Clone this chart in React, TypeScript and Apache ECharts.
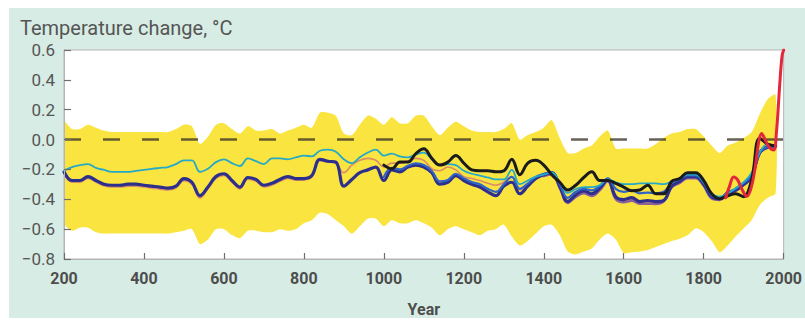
import React, { useEffect, useRef } from "react";
import * as echarts from "echarts";

// Year grid (20-year steps) shared by the band and the reconstructions
const gridYears = [
  200, 220, 240, 260, 280, 300, 320, 340, 360, 380,
  400, 420, 440, 460, 480, 500, 520, 540, 560, 580,
  600, 620, 640, 660, 680, 700, 720, 740, 760, 780,
  800, 820, 840, 860, 880, 900, 920, 940, 960, 980,
  1000, 1020, 1040, 1060, 1080, 1100, 1120, 1140, 1160, 1180,
  1200, 1220, 1240, 1260, 1280, 1300, 1320, 1340, 1360, 1380,
  1400, 1420, 1440, 1460, 1480, 1500, 1520, 1540, 1560, 1580,
  1600, 1620, 1640, 1660, 1680, 1700, 1720, 1740, 1760, 1780,
  1800, 1820, 1840, 1860, 1880, 1900, 1920, 1940, 1960, 1980,
];

const bandUpper = [
  0.12, 0.07, 0.07, 0.10, 0.08, 0.06, 0.05, 0.05, 0.05, 0.05,
  0.05, 0.05, 0.05, 0.05, 0.07, 0.10, 0.09, -0.03, 0.02, 0.10,
  0.11, 0.07, 0.04, 0.09, 0.06, 0.06, 0.07, 0.04, 0.06, 0.08,
  0.10, 0.08, 0.18, 0.18, 0.16, 0.04, 0.03, 0.10, 0.16, 0.14,
  0.10, 0.15, 0.11, 0.11, 0.16, 0.16, 0.09, 0.03, 0.08, 0.12,
  0.09, 0.06, 0.05, 0.05, 0.05, 0.07, 0.11, 0.00, 0.03, 0.05,
  0.08, 0.13, 0.01, -0.09, -0.09, -0.06, -0.04, 0.02, 0.06, -0.06,
  -0.06, -0.06, -0.06, -0.06, -0.03, 0.01, 0.04, 0.05, 0.07, 0.07,
  0.02, -0.04, -0.09, -0.04, -0.02, 0.01, 0.05, 0.17, 0.27, 0.30,
];

const bandLower = [
  -0.56, -0.61, -0.59, -0.59, -0.62, -0.63, -0.63, -0.63, -0.63, -0.63,
  -0.63, -0.63, -0.63, -0.63, -0.62, -0.61, -0.60, -0.70, -0.67, -0.60,
  -0.60, -0.64, -0.66, -0.61, -0.61, -0.62, -0.62, -0.60, -0.61, -0.60,
  -0.56, -0.54, -0.49, -0.50, -0.54, -0.58, -0.63, -0.58, -0.53, -0.53,
  -0.58, -0.54, -0.56, -0.56, -0.54, -0.56, -0.59, -0.64, -0.60, -0.58,
  -0.60, -0.62, -0.64, -0.61, -0.60, -0.57, -0.65, -0.71, -0.68, -0.63,
  -0.58, -0.57, -0.64, -0.75, -0.77, -0.75, -0.73, -0.67, -0.63, -0.67,
  -0.76, -0.755, -0.75, -0.74, -0.72, -0.70, -0.68, -0.665, -0.64, -0.595,
  -0.62, -0.68, -0.755, -0.71, -0.65, -0.595, -0.54, -0.44, -0.39, -0.36,
];

const navyValues = [
  -0.216, -0.274, -0.274, -0.248, -0.274, -0.299, -0.306, -0.306, -0.299, -0.299,
  -0.306, -0.312, -0.318, -0.325, -0.312, -0.261, -0.286, -0.376, -0.318, -0.248,
  -0.229, -0.274, -0.318, -0.254, -0.267, -0.306, -0.293, -0.267, -0.248, -0.261,
  -0.261, -0.241, -0.132, -0.145, -0.151, -0.312, -0.267, -0.222, -0.203, -0.184,
  -0.274, -0.203, -0.216, -0.184, -0.171, -0.184, -0.222, -0.299, -0.286, -0.241,
  -0.274, -0.299, -0.318, -0.350, -0.376, -0.312, -0.286, -0.363, -0.312, -0.261,
  -0.235, -0.222, -0.312, -0.415, -0.370, -0.343, -0.363, -0.325, -0.267, -0.383,
  -0.402, -0.389, -0.415, -0.408, -0.415, -0.408, -0.312, -0.280, -0.248, -0.248,
  -0.299, -0.383, -0.396, -0.357, -0.338, -0.299, -0.248, -0.087, -0.049, -0.042,
];

const cyanValues = [
  -0.209, -0.184, -0.171, -0.164, -0.190, -0.203, -0.216, -0.216, -0.216, -0.209,
  -0.203, -0.196, -0.190, -0.184, -0.164, -0.139, -0.139, -0.216, -0.196, -0.151,
  -0.132, -0.158, -0.177, -0.126, -0.145, -0.164, -0.126, -0.126, -0.132, -0.119,
  -0.107, -0.113, -0.075, -0.068, -0.081, -0.132, -0.158, -0.119, -0.087, -0.068,
  -0.107, -0.094, -0.113, -0.119, -0.100, -0.087, -0.132, -0.171, -0.164, -0.171,
  -0.209, -0.229, -0.241, -0.254, -0.267, -0.267, -0.203, -0.299, -0.274, -0.248,
  -0.235, -0.222, -0.286, -0.357, -0.331, -0.318, -0.318, -0.306, -0.267, -0.286,
  -0.299, -0.299, -0.293, -0.293, -0.293, -0.299, -0.280, -0.261, -0.235, -0.235,
  -0.286, -0.363, -0.383, -0.363, -0.325, -0.286, -0.222, -0.087, -0.030, -0.042,
];

const salmonValues = [
  -0.225, -0.285, -0.285, -0.26, -0.285, -0.31, -0.318, -0.318, -0.312, -0.312,
  -0.318, -0.325, -0.332, -0.338, -0.325, -0.275, -0.30, -0.392, -0.33, -0.26,
  -0.24, -0.285, -0.33, -0.265, -0.28, -0.318, -0.305, -0.28, -0.26, -0.272,
  -0.27, -0.25, -0.14, -0.15, -0.16, -0.222, -0.171, -0.139, -0.126, -0.139,
  -0.184, -0.158, -0.158, -0.145, -0.126, -0.139, -0.196, -0.209, -0.184, -0.203,
  -0.248, -0.261, -0.274, -0.293, -0.306, -0.286, -0.248, -0.338, -0.299, -0.261,
  -0.241, -0.23, -0.32, -0.41, -0.38, -0.355, -0.37, -0.335, -0.275, -0.39,
  -0.41, -0.40, -0.425, -0.42, -0.425, -0.41, -0.318, -0.29, -0.255, -0.255,
  -0.305, -0.39, -0.40, -0.36, -0.34, -0.30, -0.25, -0.09, -0.05, -0.045,
];

// 1000-1980
const blackValues = [
  -0.171, -0.196, -0.151, -0.151, -0.094, -0.062, -0.126, -0.171, -0.151, -0.107,
  -0.158, -0.203, -0.209, -0.209, -0.216, -0.209, -0.132, -0.235, -0.158, -0.139,
  -0.171, -0.235, -0.286, -0.338, -0.306, -0.254, -0.216, -0.274, -0.274, -0.293,
  -0.318, -0.343, -0.338, -0.306, -0.363, -0.363, -0.280, -0.261, -0.222, -0.222,
  -0.274, -0.363, -0.396, -0.376, -0.363, -0.383, -0.267, 0.009, -0.030, -0.042,
];

// 1000-1980
const blueValues = [
  -0.25, -0.19, -0.20, -0.175, -0.16, -0.17, -0.21, -0.28, -0.27, -0.23,
  -0.26, -0.285, -0.30, -0.33, -0.35, -0.30, -0.25, -0.33, -0.295, -0.25,
  -0.23, -0.22, -0.30, -0.39, -0.35, -0.33, -0.34, -0.31, -0.26, -0.33,
  -0.35, -0.34, -0.36, -0.355, -0.36, -0.35, -0.29, -0.265, -0.24, -0.24,
  -0.29, -0.375, -0.39, -0.355, -0.33, -0.29, -0.24, -0.09, -0.05, -0.045,
];

// 1400-1980
const mauveValues = [
  -0.245, -0.232, -0.325, -0.425, -0.385, -0.36, -0.378, -0.34, -0.28, -0.40,
  -0.42, -0.41, -0.43, -0.43, -0.432, -0.415, -0.32, -0.29, -0.26, -0.26,
  -0.31, -0.395, -0.405, -0.365, -0.345, -0.305, -0.255, -0.095, -0.055, -0.05,
];

const redYears = [1855, 1865, 1875, 1885, 1895, 1908, 1918, 1928, 1938, 1945, 1955, 1965, 1975, 1982, 1990, 1996, 2000];
const redValues = [-0.39, -0.31, -0.25, -0.27, -0.33, -0.38, -0.33, -0.20, -0.01, 0.04, -0.01, -0.055, -0.07, 0.05, 0.36, 0.56, 0.6];

const zeroLineYears = [200, 2000];
const zeroLineValues = [0, 0];

const FONT = "Roboto, 'Noto Sans', sans-serif";

function pairs(xs: number[], vs: number[]) {
  return vs.map((v, i) => [xs[i], v]);
}

function lineSeries(name: string, data: number[][], color: string, width: number, z: number) {
  return {
    name,
    type: "line",
    data,
    symbol: "none",
    showSymbol: false,
    smooth: 0.4,
    silent: true,
    z,
    lineStyle: { color, width, cap: "round", join: "round" },
  };
}

export default function App() {
  const ref = useRef<HTMLDivElement>(null);

  useEffect(() => {
    if (!ref.current) return;
    const chart = echarts.init(ref.current, null, { renderer: "svg" });
    const years1000 = gridYears.slice(40);
    const years1400 = gridYears.slice(60);
    const bandData = gridYears.map((y, i) => [y, bandLower[i], bandUpper[i]]);

    const option = {
      animation: false,
      backgroundColor: "#d7ece4",
      title: {
        text: "Temperature change, °C",
        left: 20,
        top: 18,
        padding: 0,
        textStyle: { fontSize: 20, fontWeight: "normal", color: "#555", fontFamily: FONT },
      },
      graphic: [
        { type: "rect", shape: { x: 0, y: 0, width: 805, height: 8 }, style: { fill: "#fff" }, silent: true },
        { type: "rect", shape: { x: 0, y: 0, width: 9, height: 322 }, style: { fill: "#fff" }, silent: true },
        { type: "rect", shape: { x: 0, y: 318, width: 805, height: 4 }, style: { fill: "#fff" }, silent: true },
      ],
      grid: {
        left: 64,
        top: 50,
        width: 730,
        height: 218,
        show: true,
        backgroundColor: "#ffffff",
        borderColor: "#b5b5b5",
        borderWidth: 1,
      },
      xAxis: {
        type: "value",
        min: 200,
        max: 2000,
        interval: 200,
        z: 10,
        name: "Year",
        nameLocation: "middle",
        nameGap: 42,
        nameTextStyle: { fontSize: 16, fontWeight: "bold", color: "#4d4d4d", fontFamily: FONT },
        axisLine: { show: true, onZero: false, lineStyle: { color: "#b5b5b5", width: 1 } },
        splitLine: { show: false },
        axisTick: { show: true, inside: true, length: 6, lineStyle: { color: "#6e6e6e", width: 1.2 } },
        axisLabel: {
          fontSize: 16,
          fontWeight: "bold",
          color: "#4d4d4d",
          margin: 11,
          fontFamily: FONT,
          formatter: (v: number) => String(v),
        },
      },
      yAxis: {
        type: "value",
        min: -0.8,
        max: 0.6,
        interval: 0.2,
        z: 10,
        axisLine: { show: true, onZero: false, lineStyle: { color: "#b5b5b5", width: 1 } },
        splitLine: { show: false },
        axisTick: { show: true, inside: true, length: 7, lineStyle: { color: "#6e6e6e", width: 1.2 } },
        axisLabel: {
          fontSize: 17,
          color: "#555",
          margin: 9,
          fontFamily: FONT,
          formatter: (v: number) => {
            if (Math.abs(v) < 1e-9) return "0.0";
            const s = Math.abs(v).toFixed(1);
            return v < 0 ? "\u2212" + s : s;
          },
        },
      },
      series: [
        {
          name: "band",
          type: "custom",
          silent: true,
          z: 1,
          clip: true,
          data: bandData,
          encode: { x: 0, y: [1, 2] },
          renderItem: (params: any, api: any) => {
            if (params.dataIndex !== 0) return null;
            const upperPts = bandData.map((d) => api.coord([d[0], d[2]]));
            const lowerPts = bandData.map((d) => api.coord([d[0], d[1]])).reverse();
            return {
              type: "group",
              children: [
                {
                  type: "polygon",
                  shape: { points: upperPts.concat(lowerPts), smooth: 0.25 },
                  style: { fill: "#fae540", stroke: "none" },
                },
              ],
            };
          },
        },
        {
          name: "zero",
          type: "line",
          data: pairs(zeroLineYears, zeroLineValues),
          symbol: "none",
          silent: true,
          z: 2,
          lineStyle: { color: "rgba(60,52,40,0.78)", width: 2.5, type: [17, 22] },
        },
        lineSeries("salmon", pairs(gridYears, salmonValues), "#d98c66", 1.6, 3),
        lineSeries("mauve", pairs(years1400, mauveValues), "#8d5f9c", 2.4, 4),
        lineSeries("navy", pairs(gridYears, navyValues), "#2d2f8c", 3.2, 5),
        lineSeries("blue", pairs(years1000, blueValues), "#2f63c6", 2.2, 6),
        lineSeries("cyan", pairs(gridYears, cyanValues), "#25a9c6", 1.8, 7),
        lineSeries("black", pairs(years1000, blackValues), "#1b1b1b", 3, 8),
        lineSeries("red", pairs(redYears, redValues), "#e2283a", 3, 9),
      ],
    };

    chart.setOption(option as any);
    return () => chart.dispose();
  }, []);

  return (
    <div
      ref={ref}
      style={{ position: "absolute", left: 0, top: 0, width: 805, height: 322 }}
    />
  );
}
